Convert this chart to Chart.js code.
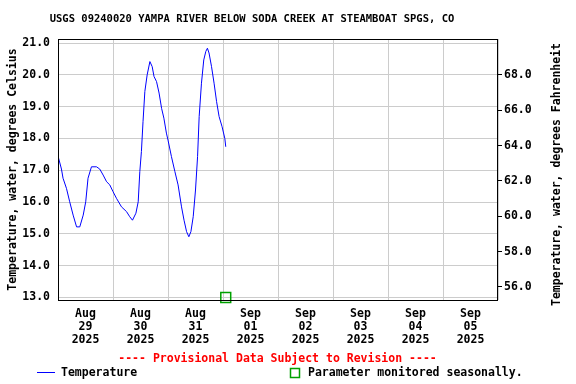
<!DOCTYPE html>
<html>
<head>
<meta charset="utf-8">
<script src="https://cdn.jsdelivr.net/npm/chart.js@4"></script>
<style>
  body { margin: 0; background: #fff; }
  #wrap { width: 576px; height: 384px; }
</style>
</head>
<body>
<div id="wrap"><canvas id="chart" width="576" height="384"></canvas></div>
<script>
// hours since Aug 29 2025 00:00, and water temperature in deg C
const hours = [0, 1.5, 2.2, 3.7, 5.1, 6.6, 8.1, 9.5, 11.0, 12.1, 13.1, 14.6, 16.8, 18.2, 19.7, 21.2, 22.6,
  24.0, 25.5, 27.7, 29.9, 31.3, 32.5, 34.0, 35.0, 35.7, 36.4, 37.1, 37.9, 38.9, 40.1, 41.1, 41.9, 43.0,
  44.1, 45.2, 46.2, 47.3, 48.0, 49.5, 51.0, 52.4, 53.9, 55.0, 56.1, 57.1, 58.0, 59.0, 60.0, 60.9, 61.6,
  62.6, 63.6, 64.5, 65.2, 65.9, 67.0, 68.1, 69.2, 70.3, 71.6, 72.8, 73.2];
const tempC = [17.45, 17.04, 16.75, 16.43, 16.01, 15.59, 15.22, 15.22, 15.59, 16.01, 16.75, 17.11, 17.11, 17.04, 16.85, 16.64, 16.54,
  16.33, 16.12, 15.85, 15.70, 15.54, 15.43, 15.65, 16.01, 16.96, 17.59, 18.53, 19.48, 20.0, 20.42, 20.26, 19.95, 19.79,
  19.43, 18.95, 18.64, 18.17, 17.95, 17.43, 16.96, 16.54, 15.85, 15.43, 15.07, 14.91, 15.07, 15.54, 16.38, 17.43, 18.69,
  19.74, 20.47, 20.74, 20.84, 20.69, 20.26, 19.74, 19.16, 18.69, 18.37, 18.0, 17.74];

// "parameter monitored seasonally" marker
const seasonalX = [73.2];
const seasonalY = [13.0];

const dayMonths = ['Aug', 'Aug', 'Aug', 'Sep', 'Sep', 'Sep', 'Sep', 'Sep'];
const dayNums = ['29', '30', '31', '01', '02', '03', '04', '05'];
const dayYear = '2025';

const cTicks = [13, 14, 15, 16, 17, 18, 19, 20, 21];
const fTicks = [56, 58, 60, 62, 64, 66, 68];

const C_MIN = 12.92, C_MAX = 21.13;
const MONO = "'DejaVu Sans Mono', monospace";

const frame = {
  id: 'frame',
  afterDraw(chart) {
    const ctx = chart.ctx;
    const a = chart.chartArea;
    ctx.save();
    ctx.strokeStyle = '#000';
    ctx.lineWidth = 1;
    ctx.strokeRect(Math.round(a.left) + 0.5, Math.round(a.top) + 0.5,
      Math.round(a.right - a.left) - 1, Math.round(a.bottom - a.top));

    ctx.fillStyle = '#000';
    ctx.textAlign = 'center';
    ctx.textBaseline = 'middle';
    ctx.font = 'bold 10.5px ' + MONO;
    ctx.fillText('USGS 09240020 YAMPA RIVER BELOW SODA CREEK AT STEAMBOAT SPGS, CO', 252, 19);

    ctx.font = 'bold 11.5px ' + MONO;
    ctx.save();
    ctx.translate(13, 169.5);
    ctx.rotate(-Math.PI / 2);
    ctx.fillText('Temperature, water, degrees Celsius', 0, 0);
    ctx.restore();
    ctx.save();
    ctx.translate(557, 174.5);
    ctx.rotate(-Math.PI / 2);
    ctx.fillText('Temperature, water, degrees Fahrenheit', 0, 0);
    ctx.restore();

    ctx.fillStyle = '#ff0000';
    ctx.fillText('---- Provisional Data Subject to Revision ----', 277.5, 359);

    // legend
    ctx.strokeStyle = '#0000ff';
    ctx.beginPath();
    ctx.moveTo(37, 372.5);
    ctx.lineTo(55, 372.5);
    ctx.stroke();
    ctx.fillStyle = '#000';
    ctx.textAlign = 'left';
    ctx.fillText('Temperature', 61, 373);
    ctx.strokeStyle = '#00a000';
    ctx.lineWidth = 1.5;
    ctx.strokeRect(290.5, 368.5, 9, 9);
    ctx.fillText('Parameter monitored seasonally.', 308, 373);
    ctx.restore();
  }
};

new Chart(document.getElementById('chart'), {
  type: 'line',
  data: {
    datasets: [
      {
        label: 'Temperature',
        data: hours.map((h, i) => ({ x: h, y: tempC[i] })),
        borderColor: '#0000ff',
        borderWidth: 1,
        pointRadius: 0,
        tension: 0,
        yAxisID: 'y'
      },
      {
        label: 'Parameter monitored seasonally.',
        data: seasonalX.map((h, i) => ({ x: h, y: seasonalY[i] })),
        showLine: false,
        pointStyle: 'rect',
        pointRadius: 7,
        pointBorderColor: '#00a000',
        pointBackgroundColor: 'rgba(0,0,0,0)',
        pointBorderWidth: 1.5,
        clip: false,
        yAxisID: 'y'
      }
    ]
  },
  options: {
    responsive: false,
    animation: false,
    layout: { padding: { top: 39 } },
    plugins: { legend: { display: false }, title: { display: false }, tooltip: { enabled: false } },
    scales: {
      x: {
        type: 'linear',
        min: 0,
        max: 192,
        afterBuildTicks: s => { s.ticks = Array.from({ length: 17 }, (_, i) => ({ value: i * 12 })); },
        afterFit: s => { s.height = 84; },
        grid: {
          color: c => (c.tick && c.tick.value % 24 === 0) ? '#cccccc' : 'rgba(0,0,0,0)',
          drawTicks: false
        },
        border: { display: false },
        ticks: {
          autoSkip: false,
          maxRotation: 0,
          padding: 8,
          color: '#000',
          font: { family: MONO, size: 11.5, weight: 'bold', lineHeight: 1.12 },
          callback: v => {
            if (v % 24 !== 12) return '';
            const d = (v - 12) / 24;
            return [dayMonths[d], dayNums[d], dayYear];
          }
        }
      },
      y: {
        position: 'left',
        min: C_MIN,
        max: C_MAX,
        afterBuildTicks: s => { s.ticks = cTicks.map(v => ({ value: v })); },
        afterFit: s => { s.width = 58; },
        grid: { color: '#cccccc', drawTicks: false },
        border: { display: false },
        ticks: {
          padding: 8,
          color: '#000',
          font: { family: MONO, size: 11.5, weight: 'bold' },
          callback: v => v.toFixed(1)
        }
      },
      yF: {
        position: 'right',
        min: C_MIN * 1.8 + 32,
        max: C_MAX * 1.8 + 32,
        afterBuildTicks: s => { s.ticks = fTicks.map(v => ({ value: v })); },
        afterFit: s => { s.width = 78; },
        grid: { drawOnChartArea: false, drawTicks: true, tickLength: 4, color: '#000' },
        border: { display: false },
        ticks: {
          padding: 2,
          color: '#000',
          font: { family: MONO, size: 11.5, weight: 'bold' },
          callback: v => v.toFixed(1)
        }
      }
    }
  },
  plugins: [frame]
});
</script>
</body>
</html>
